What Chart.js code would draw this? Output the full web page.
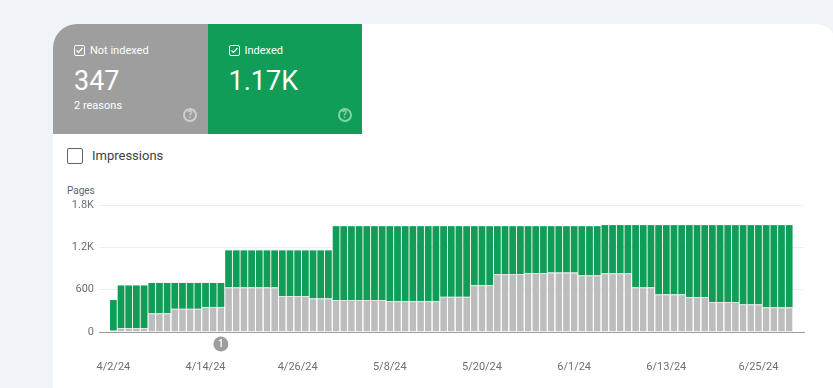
<!DOCTYPE html>
<html>
<head>
<meta charset="utf-8">
<style>
  html, body { margin: 0; padding: 0; width: 833px; height: 388px; overflow: hidden; background: #f0f4f9; font-family: Roboto, sans-serif; }
  .card { position: absolute; left: 53px; top: 24px; width: 783px; height: 380px; background: #fff; border-radius: 24px 20px 0 0; overflow: hidden; }
  .tile { position: absolute; top: 0; width: 154.5px; height: 110px; color: #fff; }
  .tile.grey { left: 0; background: #9e9e9e; }
  .tile.green { left: 154.5px; background: #0f9d58; }
  .tile .box { position: absolute; left: 21px; top: 21px; width: 9px; height: 9px; border: 1px solid #fff; border-radius: 2px; }
  .tile .box svg { position: absolute; left: 0; top: 0; }
  .tile .name { position: absolute; left: 37px; top: 20px; font-size: 11px; line-height: 14px; }
  .tile .num { position: absolute; left: 21px; top: 41px; font-size: 27px; line-height: 32px; }
  .tile .sub { position: absolute; left: 21px; top: 75px; font-size: 11px; line-height: 14px; }
  .tile .help { position: absolute; left: 130px; top: 84px; width: 10px; height: 10px; border: 2px solid rgba(255,255,255,.5); border-radius: 50%; color: rgba(255,255,255,.55); font-size: 10px; line-height: 10px; text-align: center; font-weight: 700; }
  .imp-box { position: absolute; left: 14px; top: 124px; width: 14px; height: 14px; border: 1.5px solid #5f6368; border-radius: 2px; }
  .imp { position: absolute; left: 39px; top: 124px; font-size: 13px; line-height: 16px; color: #3c4043; }
  .pages { position: absolute; left: 14px; top: 160px; font-size: 10px; line-height: 13px; color: #5f6368; }
  #wrap { position: absolute; left: 0; top: 0; width: 833px; height: 388px; }
</style>
</head>
<body>
<div class="card">
  <div class="tile grey">
    <div class="box"><svg width="9" height="9" viewBox="0 0 9 9"><path d="M1.5 4.5l2 2 4-4.5" fill="none" stroke="#fff" stroke-width="1.2"/></svg></div>
    <div class="name">Not indexed</div>
    <div class="num">347</div>
    <div class="sub">2 reasons</div>
    <div class="help">?</div>
  </div>
  <div class="tile green">
    <div class="box"><svg width="9" height="9" viewBox="0 0 9 9"><path d="M1.5 4.5l2 2 4-4.5" fill="none" stroke="#fff" stroke-width="1.2"/></svg></div>
    <div class="name">Indexed</div>
    <div class="num">1.17K</div>
    <div class="help">?</div>
  </div>
  <div class="imp-box"></div>
  <div class="imp">Impressions</div>
  <div class="pages">Pages</div>
</div>
<div id="wrap"><canvas id="chart"></canvas></div>
<script src="https://cdn.jsdelivr.net/npm/chart.js@4"></script>
<script>
// one value per day, 4/2/24 .. 6/29/24
var notIndexed = [20, 55, 55, 55, 55, 265, 265, 265, 330, 330, 330, 330, 355, 355, 355,
  633, 633, 633, 633, 633, 633, 633, 510, 510, 510, 510, 477, 477, 477,
  453, 453, 453, 453, 453, 453, 453, 439, 439, 439, 439, 439, 439, 439,
  500, 500, 500, 500, 666, 666, 666, 821, 821, 821, 821, 836, 836, 836,
  845, 845, 845, 845, 803, 803, 803, 831, 831, 831, 831, 633, 633, 633,
  534, 534, 534, 534, 496, 496, 496, 425, 425, 425, 425, 392, 392, 392,
  350, 350, 350, 350];
var indexed = [433, 605, 605, 605, 605, 430, 430, 430, 365, 365, 365, 365, 340, 340, 340,
  524, 524, 524, 524, 524, 524, 524, 647, 647, 647, 647, 680, 680, 680,
  1047, 1047, 1047, 1047, 1047, 1047, 1047, 1061, 1061, 1061, 1061, 1061, 1061, 1061,
  1000, 1000, 1000, 1000, 834, 834, 834, 679, 679, 679, 679, 664, 664, 664,
  655, 655, 655, 655, 697, 697, 697, 684, 684, 684, 684, 882, 882, 882,
  981, 981, 981, 981, 1019, 1019, 1019, 1090, 1090, 1090, 1090, 1123, 1123, 1123,
  1165, 1165, 1165, 1165];
var xTickDays = [0, 12, 24, 36, 48, 60, 72, 84];
var xTickLabels = ['4/2/24', '4/14/24', '4/26/24', '5/8/24', '5/20/24', '6/1/24', '6/13/24', '6/25/24'];
var yTickValues = [0, 600, 1200, 1800];
var yTickLabels = ['0', '600', '1.2K', '1.8K'];
var markerDay = 14;
var markerLabel = '1';

function toPoints(values) {
  return values.map(function (v, i) { return { x: i, y: v }; });
}

// the little numbered annotation circle under the axis
var markerPlugin = {
  id: 'marker',
  afterDraw: function (chart) {
    var ctx = chart.ctx;
    var x = chart.scales.x.getPixelForValue(markerDay);
    var y = chart.scales.y.getPixelForValue(0) + 12;
    ctx.save();
    ctx.fillStyle = '#9e9e9e';
    ctx.beginPath();
    ctx.arc(x, y, 7.5, 0, Math.PI * 2);
    ctx.fill();
    ctx.fillStyle = '#fff';
    ctx.font = '500 10px Roboto';
    ctx.textAlign = 'center';
    ctx.textBaseline = 'middle';
    ctx.fillText(markerLabel, x, y + 0.5);
    ctx.restore();
  }
};

new Chart(document.getElementById('chart'), {
  type: 'bar',
  data: {
    datasets: [
      { label: 'Not indexed', data: toPoints(notIndexed), backgroundColor: '#bdbdbd', borderColor: '#dbe8df', borderWidth: { top: 1, left: 0, right: 0, bottom: 0 }, barPercentage: 0.88, categoryPercentage: 1 },
      { label: 'Indexed', data: toPoints(indexed), backgroundColor: '#0f9d58', barPercentage: 0.88, categoryPercentage: 1 }
    ]
  },
  options: {
    responsive: true,
    maintainAspectRatio: false,
    animation: false,
    layout: { padding: { left: 0, right: 29, top: 205, bottom: 0 } },
    plugins: { legend: { display: false }, tooltip: { enabled: false } },
    scales: {
      x: {
        type: 'linear',
        stacked: true,
        offset: false,
        min: -1.87,
        max: 89.93,
        afterBuildTicks: function (axis) {
          axis.ticks = xTickDays.map(function (d) { return { value: d }; });
        },
        afterFit: function (axis) { axis.height = 56; },
        ticks: {
          autoSkip: false,
          maxRotation: 0,
          color: '#6b7075',
          font: { family: 'Roboto', size: 11 },
          padding: 21,
          callback: function (v) { return xTickLabels[xTickDays.indexOf(v)]; }
        },
        grid: { display: false, offset: false },
        border: { color: '#9e9e9e', width: 1 }
      },
      y: {
        stacked: true,
        min: 0,
        max: 1800,
        afterBuildTicks: function (axis) {
          axis.ticks = yTickValues.map(function (v) { return { value: v }; });
        },
        afterFit: function (axis) { axis.width = 99; },
        ticks: {
          color: '#6b7075',
          font: { family: 'Roboto', size: 11 },
          padding: 5,
          callback: function (v) { return yTickLabels[yTickValues.indexOf(v)]; }
        },
        grid: { color: '#eeeeee', drawTicks: false },
        border: { display: false }
      }
    }
  },
  plugins: [markerPlugin]
});
</script>
</body>
</html>
